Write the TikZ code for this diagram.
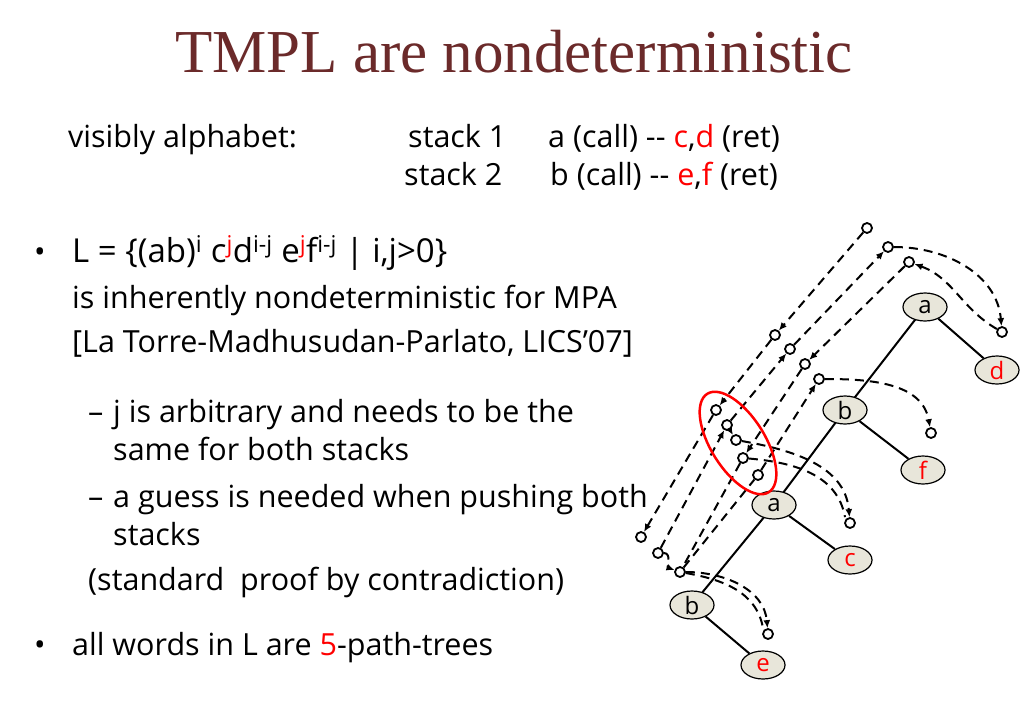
\documentclass[tikz,border=0pt]{standalone}
\usepackage{fontspec}
\setmainfont{Open Sans}
\newfontfamily\titlefont{Liberation Serif}
\usetikzlibrary{arrows.meta,shapes.geometric}
\definecolor{titlered}{HTML}{6B2A2A}
\definecolor{nodefill}{HTML}{E8E6DA}
\begin{document}
\begin{tikzpicture}[x=1pt,y=-1pt,
  txt/.style={anchor=base west,inner sep=0pt,font=\fontsize{30.5}{34}\selectfont},
  tn/.style={ellipse,draw,line width=1.2pt,fill=nodefill,minimum width=44pt,minimum height=28pt,inner sep=0pt,font=\fontsize{24}{26}\selectfont},
  sc/.style={circle,draw,line width=1.8pt,fill=white,minimum size=10pt,inner sep=0pt},
  dl/.style={line width=2pt,dash pattern=on 9pt off 6pt},
  ar/.style={dl,-{Latex[length=8pt,width=7pt]}},
  edge/.style={line width=2pt}]
\useasboundingbox (0,0) rectangle (1024,709);
\fill[white] (0,0) rectangle (1024,709);
\node[anchor=base,inner sep=0pt,font=\titlefont\fontsize{61}{64}\selectfont,text=titlered] (title) at (514,72) {TMPL are nondeterministic};
\node[txt] (va) at (68,147) {visibly alphabet:};
\node[txt] (s1) at (408,147) {stack 1};
\node[txt] (s1r) at (548,147) {a (call) -{}- \textcolor{red}{c},\textcolor{red}{d} (ret)};
\node[txt] (s2) at (404,185) {stack 2};
\node[txt] (s2r) at (550,185) {b (call) -{}- \textcolor{red}{e},\textcolor{red}{f} (ret)};
\node[txt] (b1) at (34,262) {•};
\node[txt,font=\fontsize{33}{36}\selectfont] (L) at (72,262) {L = \{(ab)\textsuperscript{i} c\textsuperscript{\textcolor{red}{j}}d\textsuperscript{i-j} e\textsuperscript{\textcolor{red}{j}}f\textsuperscript{i-j} | i,j>0\}};
\node[txt] (l2) at (72,308) {is inherently nondeterministic for MPA};
\node[txt] (l3) at (72,352) {[La Torre-Madhusudan-Parlato, LICS’07]};
\node[txt] (d1) at (88,422) {–};
\node[txt] (l4) at (113,422) {j is arbitrary and needs to be the};
\node[txt] (l5) at (113,460) {same for both stacks};
\node[txt] (d2) at (88,507) {–};
\node[txt] (l6) at (113,507) {a guess is needed when pushing both};
\node[txt] (l7) at (113,545) {stacks};
\node[txt] (l8) at (88,590) {(standard\ \ proof by contradiction)};
\node[txt] (b2) at (34,655) {•};
\node[txt] (l9) at (72,655) {all words in L are \textcolor{red}{5}-path-trees};
% tree
\draw[edge] (925,307)--(845,410)--(774,505)--(692,605);
\node[tn] (a1) at (925,307) {a};
\node[tn,text=red] (d) at (997,370) {d};
\node[tn] (b1n) at (845,410) {b};
\node[tn,text=red] (f) at (923,470) {f};
\node[tn] (a2) at (774,505) {a};
\node[tn,text=red] (c) at (850,560) {c};
\node[tn] (b2n) at (692,605) {b};
\node[tn,text=red] (e) at (763,665) {e};
\draw[edge] (a1)--(d) (b1n)--(f) (a2)--(c) (b2n)--(e);
% small circles
\foreach \n/\x/\y in {c1/867/228,c2/888/247,c3/909/262,c4/1002/332,c5/775/335,c6/790/349,c7/805/364,c8/819/379,c9/931/433,c10/716/410,c11/727/425,c12/736/440,c13/743/458,c14/758/475,c15/850/523,c16/641/537,c17/658/553,c18/680/572,c19/768/634}
  \node[sc] (\n) at (\x,\y) {};
% dashed paths
\draw[ar] (c1)--(c5); \draw[ar] (c5)--(c10); \draw[ar] (c10)--(c16);
\draw[ar] (c17)--(c11); \draw[ar] (c11)--(c6); \draw[ar] (c6)--(c2);
\draw[ar] (c3)--(c7); \draw[ar] (c7)--(c13); \draw[dl] (c13)--(c18);
\draw[dl] (c18)--(c14); \draw[ar] (c14)--(c8);
\draw[ar] (c2) to[out=0,in=95] (c4);
\draw[ar] (c4) to[out=150,in=-20] (c3);
\draw[ar] (c8) to[out=0,in=100] (c9);
\draw[ar] (c11) -- (c12);
\draw[ar] (c12) to[out=-10,in=95] (c15);
\draw[dl] (c13) to[out=-5,in=100] ([xshift=-5pt]c15.north);
\draw[ar] (c17) to[out=0,in=160] (c18);
\draw[ar] (c18) to[out=0,in=95] (c19);
\draw[dl] (c18) to[out=-10,in=100] ([xshift=-5pt]c19.north);
% red ellipse
\draw[red,line width=2.5pt,rotate around={-58:(738,443)}] (738,443) ellipse[x radius=58pt,y radius=27pt];
\end{tikzpicture}
\end{document}
